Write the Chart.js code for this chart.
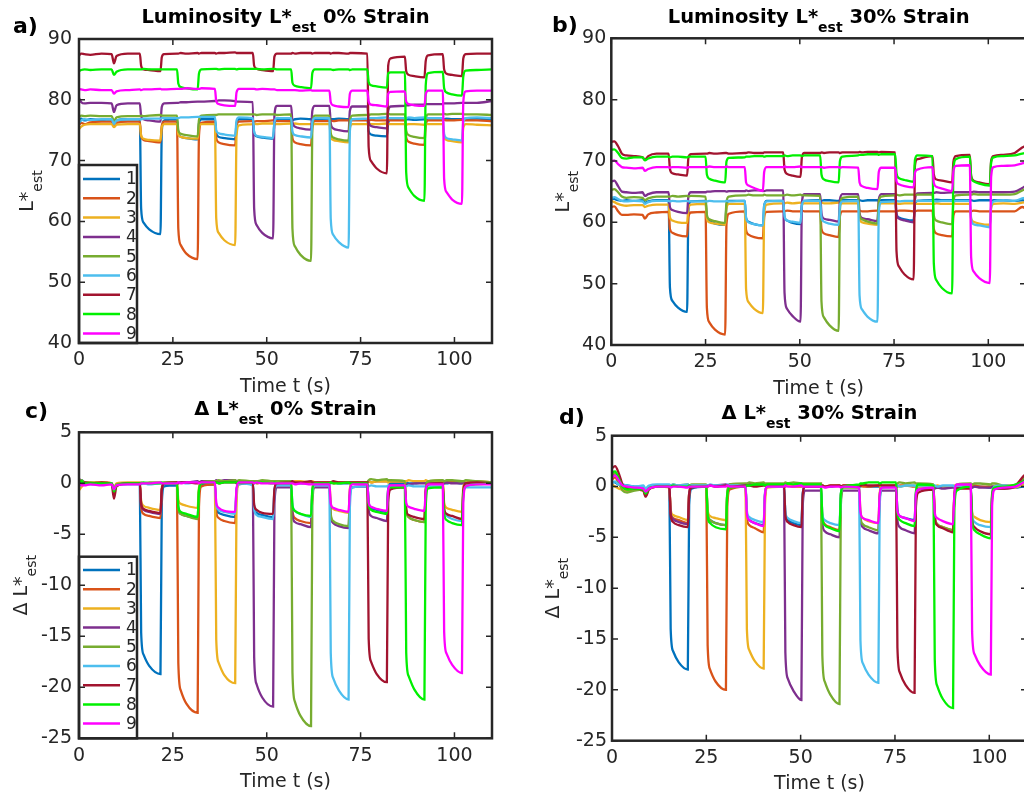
<!DOCTYPE html>
<html>
<head>
<meta charset="utf-8">
<script src="https://cdn.jsdelivr.net/npm/chart.js@4.4.1/dist/chart.umd.min.js"></script>
<style>
html,body{margin:0;padding:0;background:#fff;overflow:hidden;width:1024px;height:798px;position:relative}
canvas{position:absolute}
</style>
</head>
<body>
<canvas id="panelA" width="512" height="400" style="left:0;top:0"></canvas>
<canvas id="panelB" width="520" height="400" style="left:512px;top:0"></canvas>
<canvas id="panelC" width="512" height="398" style="left:0;top:400px"></canvas>
<canvas id="panelD" width="520" height="398" style="left:512px;top:400px"></canvas>
<script>
// ---- sensors, ticks ----
const SENSOR_LABELS = ['1','2','3','4','5','6','7','8','9'];
const SENSOR_COLORS = ['#0072BD','#D95319','#EDB120','#7E2F8E','#77AC30','#4DBEEE','#A2142F','#00F000','#FF00FF'];
const TIME_TICKS = [0, 25, 50, 75, 100];
const LUM_TICKS = [40, 50, 60, 70, 80, 90];
const DELTA_TICKS = [-25, -20, -15, -10, -5, 0, 5];

// ---- sample times (s), 0 % strain run ----
const TIME_0 = [0, 0.6, 1.5, 3, 6, 8.7, 9.3, 10.0, 13,
  16.2, 16.55, 17.2, 18.7, 21.7, 22.05, 22.7,
  26.1, 26.45, 27.1, 28.6, 31.6, 31.95, 32.6,
  36.2, 36.55, 37.2, 38.7, 41.6, 41.95, 42.6,
  46.3, 46.65, 47.3, 48.8, 51.7, 52.05, 52.7,
  56.5, 56.85, 57.5, 59.0, 61.8, 62.15, 62.8,
  66.7, 67.05, 67.7, 69.2, 71.8, 72.15, 72.8,
  76.8, 77.15, 77.8, 79.3, 82.0, 82.35, 83.0,
  86.8, 87.15, 87.8, 89.3, 92.0, 92.35, 93.0,
  96.9, 97.25, 97.9, 99.4, 102.0, 102.35, 103.0,
  106, 110];

// ---- sample times (s), 30 % strain run ----
const TIME_30 = [0, 0.8, 1.8, 2.8, 4, 6, 8.3, 8.9, 9.8, 12,
  15.2, 15.55, 16.2, 17.7, 20.1, 20.45, 21.1,
  25.0, 25.35, 26.0, 27.5, 30.2, 30.55, 31.2,
  35.4, 35.75, 36.4, 37.9, 40.2, 40.55, 41.2,
  45.6, 45.95, 46.6, 48.1, 50.2, 50.55, 51.2,
  55.4, 55.75, 56.4, 57.9, 60.3, 60.65, 61.3,
  65.5, 65.85, 66.5, 68.0, 70.6, 70.95, 71.6,
  75.3, 75.65, 76.3, 77.8, 80.2, 80.55, 81.2,
  85.2, 85.55, 86.2, 87.7, 90.4, 90.75, 91.4,
  95.1, 95.45, 96.1, 97.6, 100.4, 100.75, 101.4,
  104, 107, 109, 110];

// ---- luminosity L*est, 0 % strain ----
const LUM0_1 = [76.4, 76.9, 76.6, 76.8, 76.7, 76.8, 75.9, 76.6, 76.8,
  76.8, 62.1, 59.8, 58.7, 57.9, 74.9, 76.6,
  76.8, 74.5, 73.9, 73.7, 73.5, 76.1, 76.8,
  76.8, 74.5, 73.9, 73.7, 73.5, 76.1, 76.8,
  76.8, 74.6, 74.0, 73.8, 73.6, 76.2, 76.8,
  76.8, 76.7, 76.8, 76.9, 76.8, 76.8, 76.8,
  76.9, 76.8, 76.8, 76.9, 76.8, 76.8, 76.8,
  76.8, 74.8, 74.3, 74.1, 74.0, 76.2, 76.8,
  76.9, 76.8, 76.8, 76.7, 76.8, 76.8, 76.9,
  76.9, 76.8, 76.9, 76.8, 76.8, 76.9, 76.8,
  76.9, 76.8];
const LUM0_2 = [75.9, 76.2, 76.0, 76.3, 76.4, 76.4, 75.7, 76.2, 76.4,
  76.4, 74.0, 73.4, 73.2, 73.0, 75.7, 76.4,
  76.4, 58.8, 56.1, 54.7, 53.8, 74.1, 76.2,
  76.4, 73.7, 73.0, 72.7, 72.5, 75.6, 76.4,
  76.5, 76.4, 76.5, 76.5, 76.6, 76.5, 76.5,
  76.5, 73.7, 73.0, 72.7, 72.5, 75.7, 76.5,
  76.5, 76.6, 76.5, 76.6, 76.6, 76.5, 76.6,
  76.6, 76.6, 76.7, 76.6, 76.6, 76.7, 76.6,
  76.6, 73.8, 73.1, 72.8, 72.6, 75.8, 76.6,
  76.6, 76.7, 76.6, 76.6, 76.7, 76.6, 76.6,
  76.6, 76.5];
const LUM0_3 = [75.2, 75.6, 75.9, 76.0, 76.0, 76.0, 75.5, 75.9, 76.0,
  76.0, 74.1, 73.6, 73.4, 73.3, 75.5, 76.0,
  76.0, 74.3, 73.9, 73.7, 73.6, 75.5, 76.0,
  76.0, 60.5, 58.1, 56.9, 56.1, 74.0, 75.8,
  76.0, 76.1, 76.0, 76.1, 76.1, 76.0, 76.0,
  76.1, 76.0, 76.1, 76.0, 76.0, 76.1, 76.0,
  76.0, 73.9, 73.4, 73.2, 73.0, 75.4, 76.0,
  76.0, 76.1, 76.0, 76.0, 76.1, 76.0, 76.0,
  76.0, 75.9, 76.0, 76.0, 75.9, 76.0, 76.0,
  76.0, 73.9, 73.4, 73.2, 73.0, 75.4, 76.0,
  75.9, 75.8];
const LUM0_4 = [80.3, 79.6, 79.4, 79.5, 79.5, 79.4, 78.0, 79.1, 79.4,
  79.4, 77.3, 76.8, 76.6, 76.4, 78.8, 79.4,
  79.5, 79.5, 79.6, 79.6, 79.7, 79.7, 79.7,
  79.8, 79.8, 79.9, 79.9, 79.8, 79.7, 79.7,
  79.6, 62.1, 59.4, 58.1, 57.2, 77.4, 79.0,
  79.0, 76.3, 75.6, 75.3, 75.1, 78.2, 79.0,
  79.0, 76.1, 75.3, 75.0, 74.8, 78.2, 78.9,
  78.9, 76.4, 75.7, 75.5, 75.3, 78.2, 78.9,
  79.0, 79.1, 79.1, 79.2, 79.2, 79.3, 79.3,
  79.3, 79.4, 79.4, 79.4, 79.5, 79.5, 79.5,
  79.5, 79.8];
const LUM0_5 = [77.1, 77.4, 77.3, 77.4, 77.3, 77.3, 76.5, 77.1, 77.3,
  77.3, 77.4, 77.3, 77.4, 77.5, 77.4, 77.4,
  77.4, 75.0, 74.4, 74.2, 74.0, 76.7, 77.4,
  77.5, 77.5, 77.6, 77.6, 77.6, 77.6, 77.6,
  77.6, 77.6, 77.5, 77.6, 77.6, 77.6, 77.5,
  77.6, 58.8, 55.9, 54.5, 53.5, 75.2, 77.4,
  77.4, 74.5, 73.8, 73.5, 73.3, 76.6, 77.4,
  77.5, 77.5, 77.6, 77.6, 77.7, 77.7, 77.6,
  77.6, 74.9, 74.2, 73.9, 73.7, 76.8, 77.6,
  77.6, 77.7, 77.6, 77.7, 77.7, 77.6, 77.6,
  77.6, 77.5];
const LUM0_6 = [76.2, 76.6, 76.8, 76.7, 76.8, 76.8, 76.0, 76.6, 76.8,
  76.8, 76.8, 76.9, 76.9, 76.9, 77.0, 77.0,
  77.0, 77.0, 77.1, 77.1, 77.2, 77.2, 77.2,
  77.2, 75.0, 74.5, 74.3, 74.1, 76.6, 77.1,
  77.0, 74.7, 74.1, 73.9, 73.7, 76.3, 77.0,
  77.0, 74.8, 74.2, 74.0, 73.8, 76.4, 77.0,
  77.0, 60.4, 57.8, 56.6, 55.7, 74.9, 76.8,
  76.9, 77.0, 77.0, 77.0, 77.1, 77.0, 77.0,
  77.0, 77.0, 77.1, 77.0, 77.1, 77.1, 77.0,
  77.0, 74.4, 73.7, 73.5, 73.3, 76.3, 77.0,
  77.1, 77.0];
const LUM0_7 = [87.3, 87.6, 87.5, 87.4, 87.6, 87.5, 86.0, 87.2, 87.6,
  87.6, 85.6, 85.0, 84.9, 84.7, 87.0, 87.5,
  87.6, 87.6, 87.7, 87.6, 87.7, 87.6, 87.7,
  87.7, 87.6, 87.7, 87.7, 87.8, 87.7, 87.7,
  87.7, 85.6, 85.1, 84.9, 84.7, 87.1, 87.6,
  87.6, 87.7, 87.6, 87.7, 87.7, 87.6, 87.7,
  87.7, 87.6, 87.7, 87.7, 87.6, 87.7, 87.7,
  87.6, 72.2, 69.9, 68.7, 67.9, 85.6, 86.8,
  87.1, 84.7, 84.1, 83.9, 83.7, 86.4, 87.3,
  87.5, 85.0, 84.3, 84.1, 83.9, 86.8, 87.5,
  87.6, 87.6];
const LUM0_8 = [84.7, 84.9, 85.0, 84.9, 85.0, 85.0, 84.1, 84.6, 85.0,
  85.0, 85.0, 85.1, 85.0, 85.0, 85.0, 85.0,
  85.0, 82.7, 82.1, 81.9, 81.7, 84.3, 85.0,
  85.1, 85.1, 85.0, 85.1, 85.1, 85.0, 85.1,
  85.1, 85.1, 85.1, 85.0, 85.1, 85.1, 85.0,
  85.0, 82.8, 82.3, 82.1, 81.9, 84.4, 85.0,
  85.0, 85.0, 84.9, 85.0, 85.0, 84.9, 85.0,
  85.0, 82.9, 82.4, 82.2, 82.0, 84.4, 84.5,
  84.5, 68.0, 65.5, 64.2, 63.4, 82.4, 84.4,
  84.6, 81.9, 81.2, 80.9, 80.7, 83.8, 84.8,
  84.9, 85.0];
const LUM0_9 = [81.8, 81.7, 81.6, 81.7, 81.6, 81.6, 81.0, 81.4, 81.6,
  81.7, 81.6, 81.7, 81.7, 81.8, 81.7, 81.7,
  81.8, 81.8, 81.8, 81.9, 81.8, 81.8, 81.9,
  81.8, 79.8, 79.3, 79.1, 79.0, 81.2, 81.8,
  81.8, 81.8, 81.7, 81.8, 81.7, 81.7, 81.6,
  81.6, 81.6, 81.6, 81.5, 81.6, 81.5, 81.5,
  81.5, 79.6, 79.1, 78.9, 78.8, 81.0, 81.5,
  81.5, 79.7, 79.2, 79.1, 78.9, 81.0, 81.3,
  81.4, 79.7, 79.3, 79.1, 79.0, 80.9, 81.5,
  81.5, 67.0, 64.8, 63.6, 62.9, 79.6, 81.4,
  81.5, 81.5];

// ---- luminosity L*est, 30 % strain ----
const LUM30_1 = [63.9, 63.8, 63.6, 63.5, 63.6, 63.5, 63.6, 63.2, 63.4, 63.6,
  63.6, 49.4, 47.2, 46.1, 45.4, 61.8, 63.4,
  63.5, 60.8, 60.2, 59.8, 59.6, 62.7, 63.5,
  63.5, 60.7, 60.1, 59.7, 59.5, 62.7, 63.5,
  63.5, 60.8, 60.3, 59.9, 59.7, 62.7, 63.5,
  63.6, 63.5, 63.6, 63.6, 63.5, 63.6, 63.6,
  63.6, 63.6, 63.5, 63.6, 63.6, 63.5, 63.6,
  63.6, 61.3, 60.8, 60.5, 60.3, 62.9, 63.5,
  63.6, 63.6, 63.7, 63.6, 63.6, 63.7, 63.6,
  63.6, 63.6, 63.5, 63.6, 63.6, 63.5, 63.6,
  63.6, 63.5, 63.6, 63.5];
const LUM30_2 = [62.5, 62.6, 61.8, 61.2, 61.2, 61.3, 61.2, 60.6, 61.3, 61.6,
  61.7, 58.9, 58.3, 57.9, 57.7, 60.9, 61.6,
  61.7, 46.1, 43.7, 42.5, 41.7, 59.7, 61.4,
  61.8, 58.7, 58.0, 57.6, 57.4, 60.9, 61.7,
  61.8, 61.8, 61.9, 61.8, 61.8, 61.9, 61.8,
  61.8, 58.9, 58.2, 57.9, 57.6, 61.0, 61.8,
  61.8, 61.9, 61.8, 61.8, 61.9, 61.8, 61.8,
  61.8, 61.8, 61.9, 61.9, 61.8, 61.8, 61.9,
  61.9, 58.9, 58.2, 57.9, 57.7, 61.1, 61.8,
  61.8, 61.8, 61.9, 61.8, 61.8, 61.8, 61.8,
  61.8, 61.8, 62.5, 62.2];
const LUM30_3 = [63.5, 63.3, 63.0, 62.8, 62.7, 62.8, 62.8, 62.5, 62.7, 62.9,
  62.9, 60.8, 60.3, 60.0, 59.9, 62.3, 62.9,
  63.0, 60.6, 60.0, 59.8, 59.6, 62.3, 63.0,
  63.0, 49.1, 47.0, 45.9, 45.2, 61.2, 62.9,
  63.1, 63.1, 63.2, 63.1, 63.2, 63.1, 63.1,
  63.1, 63.2, 63.1, 63.1, 63.2, 63.1, 63.1,
  63.1, 60.7, 60.0, 59.8, 59.6, 62.4, 63.1,
  63.1, 63.1, 63.0, 63.1, 63.1, 63.0, 63.0,
  63.0, 63.0, 63.1, 63.0, 63.0, 63.1, 63.0,
  63.0, 60.6, 60.1, 59.8, 59.6, 62.3, 63.0,
  63.1, 63.0, 63.2, 63.3];
const LUM30_4 = [66.6, 66.8, 65.9, 65.0, 64.9, 64.8, 64.9, 64.3, 64.6, 64.9,
  64.9, 62.5, 62.0, 61.7, 61.5, 64.2, 64.9,
  64.9, 65.0, 65.0, 65.1, 65.1, 65.0, 65.1,
  65.1, 65.2, 65.1, 65.2, 65.2, 65.1, 65.2,
  65.2, 48.5, 45.9, 44.7, 43.8, 63.1, 64.6,
  64.6, 61.5, 60.6, 60.4, 60.1, 63.7, 64.6,
  64.6, 61.5, 60.7, 60.5, 60.2, 63.7, 64.6,
  64.6, 61.4, 60.6, 60.3, 60.0, 63.7, 64.7,
  64.8, 64.8, 64.9, 64.8, 64.9, 64.9, 64.9,
  64.9, 64.9, 65.0, 64.9, 64.9, 65.0, 64.9,
  64.9, 65.0, 65.6, 66.0];
const LUM30_5 = [65.3, 65.4, 64.9, 64.2, 64.0, 64.1, 64.0, 63.6, 63.9, 64.2,
  64.2, 64.2, 64.3, 64.2, 64.3, 64.2, 64.3,
  64.2, 61.2, 60.5, 60.2, 59.9, 63.3, 64.2,
  64.4, 64.4, 64.5, 64.4, 64.4, 64.5, 64.4,
  64.4, 64.4, 64.5, 64.4, 64.5, 64.4, 64.4,
  64.3, 47.1, 44.5, 43.2, 42.3, 62.1, 64.0,
  64.2, 61.1, 60.5, 60.1, 59.8, 63.3, 64.2,
  64.4, 64.5, 64.4, 64.5, 64.5, 64.4, 64.5,
  64.5, 61.1, 60.3, 60.0, 59.7, 63.5, 64.4,
  64.5, 64.5, 64.6, 64.5, 64.5, 64.6, 64.5,
  64.5, 64.6, 65.2, 65.5];
const LUM30_6 = [64.0, 64.1, 63.8, 63.5, 63.4, 63.5, 63.4, 63.0, 63.3, 63.5,
  63.5, 63.4, 63.5, 63.4, 63.5, 63.4, 63.4,
  63.4, 63.4, 63.5, 63.4, 63.4, 63.5, 63.4,
  63.5, 60.7, 60.0, 59.7, 59.5, 62.7, 63.4,
  63.5, 61.0, 60.3, 60.1, 59.9, 62.8, 63.5,
  63.5, 60.8, 60.1, 59.8, 59.6, 62.7, 63.4,
  63.5, 48.1, 45.8, 44.6, 43.8, 61.5, 63.3,
  63.4, 63.5, 63.4, 63.5, 63.5, 63.4, 63.5,
  63.5, 63.5, 63.4, 63.5, 63.5, 63.4, 63.5,
  63.5, 60.5, 59.7, 59.5, 59.2, 62.6, 63.4,
  63.6, 63.5, 63.9, 64.0];
const LUM30_7 = [73.1, 73.2, 72.4, 71.2, 70.9, 70.8, 70.6, 70.2, 70.8, 71.2,
  71.2, 68.7, 68.0, 67.8, 67.6, 70.5, 71.1,
  71.2, 71.2, 71.3, 71.2, 71.3, 71.3, 71.2,
  71.3, 71.3, 71.4, 71.3, 71.3, 71.4, 71.4,
  71.4, 68.6, 67.9, 67.6, 67.4, 70.6, 71.3,
  71.3, 71.4, 71.3, 71.4, 71.4, 71.3, 71.4,
  71.4, 71.5, 71.4, 71.5, 71.5, 71.4, 71.5,
  71.4, 55.3, 52.8, 51.5, 50.7, 69.3, 70.3,
  70.8, 67.8, 67.0, 66.8, 66.5, 69.9, 70.8,
  71.0, 67.6, 66.8, 66.5, 66.2, 70.0, 70.8,
  71.0, 71.3, 72.2, 72.5];
const LUM30_8 = [71.8, 71.9, 71.3, 70.5, 70.4, 70.6, 70.6, 70.1, 70.4, 70.7,
  70.7, 70.6, 70.7, 70.7, 70.6, 70.7, 70.7,
  70.7, 67.8, 67.1, 66.8, 66.5, 69.9, 70.5,
  70.6, 70.7, 70.7, 70.8, 70.8, 70.7, 70.8,
  70.8, 70.9, 70.8, 70.9, 70.9, 70.8, 70.9,
  70.9, 67.8, 67.0, 66.7, 66.5, 70.0, 70.7,
  70.9, 71.0, 71.0, 71.1, 71.1, 71.0, 71.1,
  71.1, 68.0, 67.2, 66.9, 66.6, 70.2, 70.9,
  70.8, 53.3, 50.6, 49.3, 48.4, 68.6, 70.3,
  70.7, 67.4, 66.7, 66.3, 66.0, 69.8, 70.6,
  70.8, 70.9, 71.2, 71.3];
const LUM30_9 = [69.9, 70.1, 69.5, 69.0, 68.9, 68.8, 68.9, 68.4, 68.7, 69.0,
  69.0, 68.9, 69.0, 69.0, 68.9, 69.0, 69.0,
  69.0, 69.0, 69.1, 69.0, 69.0, 69.1, 69.0,
  69.0, 66.5, 66.0, 65.6, 65.1, 68.2, 69.0,
  69.0, 69.1, 69.0, 69.0, 69.1, 69.0, 69.0,
  69.0, 69.0, 68.9, 69.0, 69.0, 68.9, 69.0,
  68.9, 66.5, 65.9, 65.6, 65.4, 68.2, 68.9,
  68.9, 66.7, 66.2, 65.9, 65.7, 68.1, 68.6,
  69.0, 66.4, 65.8, 65.5, 65.1, 68.3, 69.2,
  69.3, 54.3, 52.0, 50.9, 50.1, 67.4, 69.0,
  69.2, 69.3, 69.6, 69.8];

// ---- change of luminosity, 0 % strain ----
const DELTA0_1 = [-0.3, 0.3, 0.1, 0.0, 0.0, 0.0, -0.6, -0.1, 0.0,
  0.0, -14.6, -16.8, -17.9, -18.7, -1.9, -0.3,
  -0.2, -2.5, -3.0, -3.2, -3.4, -0.8, -0.2,
  -0.1, -2.4, -2.9, -3.1, -3.3, -0.7, -0.1,
  0.0, -2.3, -2.9, -3.1, -3.3, -0.7, 0.0,
  0.0, 0.1, 0.0, 0.0, 0.1, 0.0, 0.0,
  0.0, 0.0, 0.1, 0.0, 0.0, 0.1, 0.0,
  0.0, -1.9, -2.4, -2.6, -2.8, -0.6, 0.0,
  0.0, 0.1, 0.0, 0.0, 0.1, 0.0, 0.0,
  0.1, 0.0, 0.0, 0.1, 0.0, 0.0, 0.1,
  0.1, 0.0];
const DELTA0_2 = [0.2, -0.2, 0.1, 0.0, 0.1, 0.0, -0.7, -0.1, 0.0,
  0.0, -2.4, -3.0, -3.2, -3.4, -0.7, 0.0,
  0.0, -17.6, -20.3, -21.6, -22.5, -2.3, -0.3,
  -0.1, -2.8, -3.4, -3.7, -3.9, -0.8, 0.0,
  0.0, 0.1, 0.0, 0.1, 0.1, 0.0, 0.1,
  0.1, -2.7, -3.4, -3.7, -3.9, -0.7, 0.1,
  0.1, 0.1, 0.0, 0.1, 0.1, 0.0, 0.1,
  0.1, 0.2, 0.1, 0.2, 0.2, 0.1, 0.2,
  0.2, -2.6, -3.3, -3.6, -3.8, -0.6, 0.1,
  0.2, 0.2, 0.1, 0.2, 0.2, 0.1, 0.2,
  0.1, 0.1];
const DELTA0_3 = [-0.7, -0.4, 0.0, 0.1, 0.1, 0.0, -0.4, 0.0, 0.1,
  0.1, -1.7, -2.2, -2.4, -2.6, -0.4, 0.1,
  0.1, -1.6, -2.0, -2.2, -2.4, -0.4, 0.1,
  0.1, -15.3, -17.6, -18.8, -19.6, -1.9, 0.0,
  0.1, 0.1, 0.2, 0.1, 0.2, 0.1, 0.2,
  0.2, 0.1, 0.2, 0.2, 0.1, 0.2, 0.1,
  0.1, -2.0, -2.5, -2.7, -2.9, -0.5, 0.1,
  0.1, 0.2, 0.1, 0.2, 0.2, 0.1, 0.2,
  0.2, 0.2, 0.3, 0.2, 0.2, 0.3, 0.2,
  0.3, -1.9, -2.4, -2.6, -2.8, -0.4, 0.2,
  0.2, 0.1];
const DELTA0_4 = [0.5, 0.0, -0.1, 0.0, 0.0, 0.0, -0.8, -0.2, 0.0,
  0.0, -2.1, -2.6, -2.8, -3.0, -0.6, 0.0,
  0.0, 0.1, 0.1, 0.1, 0.2, 0.1, 0.2,
  0.2, 0.3, 0.2, 0.3, 0.3, 0.2, 0.2,
  0.2, -17.0, -19.7, -21.0, -21.9, -2.0, -0.4,
  -0.4, -3.1, -3.8, -4.0, -4.3, -1.1, -0.4,
  -0.4, -3.2, -3.9, -4.2, -4.4, -1.2, -0.4,
  -0.3, -2.6, -3.2, -3.4, -3.7, -0.9, -0.2,
  -0.2, -0.1, -0.1, 0.0, 0.0, 0.0, 0.0,
  0.0, 0.0, 0.1, 0.0, 0.0, 0.1, 0.0,
  0.0, 0.1];
const DELTA0_5 = [0.0, 0.3, 0.1, 0.1, 0.0, 0.0, -0.6, -0.1, 0.0,
  0.0, 0.1, 0.0, 0.1, 0.1, 0.0, 0.1,
  0.1, -2.4, -3.0, -3.2, -3.5, -0.7, 0.1,
  0.2, 0.2, 0.3, 0.2, 0.3, 0.2, 0.3,
  0.2, 0.2, 0.2, 0.3, 0.2, 0.2, 0.2,
  0.2, -18.5, -21.4, -22.8, -23.8, -2.2, -0.2,
  -0.1, -3.0, -3.7, -4.0, -4.2, -0.9, 0.0,
  0.1, 0.3, 0.4, 0.3, 0.4, 0.3, 0.3,
  0.2, -2.6, -3.3, -3.6, -3.8, -0.6, 0.2,
  0.3, 0.2, 0.3, 0.3, 0.2, 0.2, 0.3,
  0.2, 0.1];
const DELTA0_6 = [-0.4, 0.1, 0.0, -0.1, 0.0, 0.0, -0.6, -0.2, -0.1,
  -0.1, -0.1, 0.0, -0.1, 0.0, 0.0, 0.0,
  0.0, 0.0, 0.1, 0.0, 0.1, 0.1, 0.1,
  0.1, -2.1, -2.6, -2.8, -3.0, -0.6, 0.0,
  -0.2, -2.5, -3.1, -3.3, -3.5, -0.9, -0.2,
  -0.2, -2.1, -2.7, -3.0, -3.3, -0.8, -0.2,
  -0.2, -16.6, -19.1, -20.3, -21.2, -2.3, -0.4,
  -0.3, -0.3, -0.2, -0.3, -0.3, -0.2, -0.3,
  -0.3, -0.3, -0.2, -0.3, -0.3, -0.3, -0.3,
  -0.3, -2.7, -3.2, -3.5, -3.7, -1.0, -0.4,
  -0.4, -0.4];
const DELTA0_7 = [0.2, -0.1, 0.1, 0.0, 0.1, -0.1, -1.5, -0.3, 0.0,
  0.0, -2.0, -2.5, -2.7, -2.9, -0.6, 0.0,
  0.1, 0.0, 0.1, 0.1, 0.0, 0.1, 0.1,
  0.1, 0.1, 0.0, 0.1, 0.1, 0.0, 0.1,
  0.1, -2.1, -2.6, -2.9, -3.0, -0.6, 0.0,
  0.1, 0.2, 0.1, 0.1, 0.2, 0.1, 0.1,
  0.1, 0.1, 0.2, 0.1, 0.1, 0.1, 0.1,
  0.1, -15.2, -17.5, -18.7, -19.5, -1.9, -0.6,
  -0.4, -2.6, -3.1, -3.3, -3.5, -0.9, -0.1,
  0.0, -2.4, -3.0, -3.2, -3.5, -0.7, 0.0,
  0.1, 0.0];
const DELTA0_8 = [0.1, 0.2, 0.0, 0.0, 0.0, 0.0, -0.8, -0.2, 0.0,
  0.0, 0.0, 0.1, 0.0, 0.0, 0.1, 0.0,
  0.0, -2.3, -2.8, -3.0, -3.3, -0.7, 0.0,
  0.1, 0.1, 0.0, 0.1, 0.1, 0.1, 0.1,
  0.1, 0.0, 0.1, 0.1, 0.0, 0.1, 0.0,
  0.0, -2.2, -2.7, -3.0, -3.2, -0.6, 0.0,
  0.0, 0.1, 0.0, 0.0, 0.1, 0.0, 0.0,
  0.0, -2.1, -2.6, -2.8, -3.0, -0.6, -0.4,
  -0.4, -16.6, -18.9, -20.2, -21.2, -2.3, -0.5,
  -0.4, -3.0, -3.6, -3.9, -4.1, -1.1, -0.3,
  -0.1, 0.0];
const DELTA0_9 = [0.0, -0.2, -0.2, -0.1, -0.2, -0.1, -0.6, -0.2, -0.1,
  -0.1, 0.0, 0.0, 0.0, 0.1, 0.0, 0.0,
  0.0, 0.1, 0.0, 0.1, 0.1, 0.0, 0.1,
  0.1, -1.9, -2.4, -2.7, -2.8, -0.5, 0.1,
  0.1, 0.0, 0.1, 0.0, 0.0, 0.0, 0.0,
  0.0, 0.0, -0.1, 0.0, -0.1, -0.1, -0.1,
  -0.1, -2.0, -2.4, -2.6, -2.8, -0.6, -0.1,
  -0.1, -1.9, -2.3, -2.5, -2.7, -0.6, -0.2,
  -0.2, -1.9, -2.3, -2.5, -2.7, -0.7, -0.1,
  -0.1, -14.5, -16.7, -17.8, -18.6, -1.9, -0.3,
  -0.1, -0.1];

// ---- change of luminosity, 30 % strain ----
const DELTA30_1 = [0.5, 0.4, 0.2, 0.1, 0.1, 0.0, 0.0, -0.3, 0.0, 0.1,
  0.0, -14.0, -16.2, -17.3, -18.0, -1.8, -0.2,
  0.0, -2.7, -3.3, -3.6, -3.8, -0.8, 0.0,
  0.0, -2.7, -3.3, -3.6, -3.8, -0.8, 0.0,
  0.0, -2.7, -3.3, -3.6, -3.8, -0.8, 0.0,
  0.0, 0.1, 0.0, 0.0, 0.1, 0.0, 0.0,
  0.0, 0.0, 0.1, 0.0, 0.0, 0.0, 0.0,
  0.0, -2.3, -2.9, -3.1, -3.3, -0.7, 0.0,
  0.0, 0.0, -0.1, 0.0, 0.0, -0.1, 0.0,
  0.0, -0.1, 0.0, 0.0, -0.1, 0.0, 0.0,
  0.0, -0.1, 0.0, -0.1];
const DELTA30_2 = [0.7, 0.9, 0.3, -0.3, -0.4, -0.3, -0.4, -0.9, -0.2, 0.0,
  0.0, -2.5, -3.1, -3.3, -3.6, -0.7, 0.0,
  0.0, -15.6, -18.0, -19.2, -20.0, -2.0, -0.3,
  0.0, -3.1, -3.8, -4.1, -4.5, -0.9, 0.0,
  0.0, 0.0, 0.1, 0.0, 0.0, 0.1, 0.0,
  0.0, -2.9, -3.7, -4.0, -4.3, -0.9, 0.0,
  0.0, 0.1, 0.0, 0.0, 0.1, 0.0, 0.0,
  0.0, 0.0, 0.1, 0.1, 0.0, 0.0, 0.1,
  0.1, -2.9, -3.7, -4.0, -4.3, -0.8, 0.0,
  0.0, 0.0, 0.1, 0.0, 0.0, 0.0, 0.0,
  0.0, 0.0, 0.7, 0.4];
const DELTA30_3 = [0.2, 0.0, -0.2, -0.3, -0.3, -0.2, -0.2, -0.4, -0.2, 0.0,
  -0.1, -2.3, -2.8, -3.0, -3.3, -0.7, 0.0,
  0.0, -2.3, -2.9, -3.1, -3.3, -0.7, 0.0,
  0.0, -14.0, -16.1, -17.2, -17.9, -1.8, -0.1,
  0.0, 0.1, 0.1, 0.0, 0.1, 0.1, 0.1,
  0.1, 0.1, 0.0, 0.1, 0.1, 0.0, 0.1,
  0.1, -2.5, -3.1, -3.4, -3.6, -0.7, 0.1,
  0.1, 0.1, 0.0, 0.1, 0.1, 0.0, 0.0,
  0.0, 0.0, 0.1, 0.0, 0.0, 0.1, 0.0,
  0.0, -2.5, -3.0, -3.3, -3.5, -0.7, 0.0,
  0.0, -0.1, 0.2, 0.3];
const DELTA30_4 = [1.1, 1.3, 0.6, 0.0, -0.2, -0.2, -0.3, -0.6, -0.2, 0.0,
  0.0, -2.6, -3.2, -3.5, -3.7, -0.7, 0.0,
  0.0, 0.1, 0.1, 0.1, 0.2, 0.1, 0.2,
  0.2, 0.2, 0.3, 0.2, 0.3, 0.2, 0.2,
  0.2, -16.3, -18.9, -20.1, -21.0, -1.9, -0.4,
  -0.4, -3.6, -4.4, -4.7, -5.0, -1.3, -0.4,
  -0.4, -3.3, -4.0, -4.3, -4.6, -1.2, -0.4,
  -0.4, -3.3, -4.0, -4.3, -4.6, -1.2, -0.3,
  -0.2, -0.2, -0.1, -0.2, -0.1, -0.1, -0.1,
  -0.1, -0.1, 0.0, -0.1, -0.1, 0.0, -0.1,
  -0.2, 0.0, 0.7, 1.0];
const DELTA30_5 = [1.2, 1.3, 0.5, -0.4, -0.6, -0.4, -0.3, -0.6, -0.1, 0.1,
  0.1, 0.1, 0.2, 0.1, 0.2, 0.1, 0.2,
  0.2, -2.6, -3.3, -3.6, -3.8, -0.6, 0.2,
  0.3, 0.3, 0.4, 0.3, 0.4, 0.3, 0.3,
  0.3, 0.4, 0.3, 0.4, 0.3, 0.3, 0.3,
  0.3, -16.6, -19.2, -20.5, -21.4, -1.9, -0.1,
  -0.1, -3.0, -3.7, -4.0, -4.3, -0.9, 0.0,
  0.1, 0.3, 0.4, 0.3, 0.4, 0.3, 0.3,
  0.2, -2.9, -3.7, -4.0, -4.3, -0.7, 0.2,
  0.3, 0.2, 0.3, 0.3, 0.2, 0.3, 0.3,
  0.1, 0.2, 0.8, 1.1];
const DELTA30_6 = [0.3, 0.5, 0.2, 0.2, 0.1, 0.0, 0.1, -0.2, 0.1, 0.2,
  0.2, 0.1, 0.2, 0.1, 0.2, 0.1, 0.1,
  0.1, 0.1, 0.2, 0.1, 0.1, 0.2, 0.1,
  0.1, -2.4, -3.0, -3.3, -3.5, -0.6, 0.0,
  0.0, -2.5, -3.1, -3.4, -3.6, -0.7, 0.0,
  0.0, -2.7, -3.3, -3.6, -3.8, -0.8, 0.0,
  0.0, -15.1, -17.4, -18.5, -19.3, -1.9, -0.1,
  0.0, 0.1, 0.0, 0.1, 0.1, 0.0, 0.1,
  0.1, 0.1, 0.0, 0.1, 0.1, 0.0, 0.1,
  0.1, -2.8, -3.5, -3.8, -4.0, -0.8, 0.0,
  0.1, 0.0, 0.4, 0.5];
const DELTA30_7 = [1.8, 2.0, 1.3, 0.2, -0.1, -0.2, -0.4, -1.0, -0.3, 0.0,
  0.0, -2.8, -3.5, -3.8, -4.0, -0.8, -0.1,
  0.0, 0.0, 0.1, 0.0, 0.1, 0.1, 0.0,
  0.1, 0.1, 0.1, 0.0, 0.1, 0.1, 0.1,
  0.1, -2.8, -3.5, -3.8, -4.0, -0.8, 0.0,
  0.0, 0.1, 0.0, 0.1, 0.1, 0.0, 0.1,
  0.1, 0.1, 0.2, 0.1, 0.1, 0.2, 0.1,
  0.1, -15.8, -18.3, -19.5, -20.3, -2.0, -0.6,
  -0.3, -3.1, -3.8, -4.1, -4.5, -1.0, -0.2,
  -0.2, -3.3, -4.0, -4.4, -4.7, -1.1, -0.2,
  -0.2, 0.1, 1.0, 1.3];
const DELTA30_8 = [1.4, 1.5, 0.8, 0.0, -0.3, -0.2, -0.3, -0.7, -0.2, 0.0,
  0.0, 0.0, 0.1, 0.0, 0.0, 0.1, 0.0,
  0.0, -2.9, -3.6, -4.0, -4.2, -0.8, -0.1,
  0.0, 0.1, 0.1, 0.2, 0.2, 0.1, 0.2,
  0.2, 0.2, 0.3, 0.2, 0.3, 0.2, 0.2,
  0.2, -3.0, -3.8, -4.1, -4.4, -0.7, 0.0,
  0.2, 0.3, 0.3, 0.4, 0.4, 0.3, 0.4,
  0.4, -2.6, -3.3, -3.6, -3.9, -0.5, 0.2,
  0.1, -17.0, -19.6, -20.9, -21.8, -2.1, -0.4,
  0.0, -3.5, -4.3, -4.7, -5.1, -1.0, -0.1,
  0.0, 0.2, 0.5, 0.7];
const DELTA30_9 = [0.9, 1.1, 0.6, 0.1, 0.0, -0.1, -0.2, -0.5, -0.2, 0.0,
  0.0, -0.1, 0.0, 0.0, -0.1, 0.0, 0.0,
  0.0, 0.0, 0.1, 0.0, 0.0, 0.1, 0.0,
  0.0, -2.7, -3.3, -3.6, -3.9, -0.8, 0.0,
  0.0, 0.1, 0.0, 0.0, 0.1, 0.0, 0.0,
  0.0, 0.0, -0.1, 0.0, 0.0, -0.1, 0.0,
  -0.1, -2.5, -3.1, -3.3, -3.6, -0.8, -0.1,
  -0.1, -2.4, -2.9, -3.1, -3.4, -0.8, -0.3,
  -0.1, -2.6, -3.1, -3.4, -3.7, -0.8, 0.2,
  0.2, -14.3, -16.5, -17.6, -18.5, -1.9, -0.3,
  -0.1, 0.0, 0.4, 0.6];

// ---- drawing ----
const FONT = '"DejaVu Sans", sans-serif';
const INK = '#262626';

function drawRich(ctx, parts, x, y) {
  let total = 0;
  parts.forEach(p => { ctx.font = p.font; p.w = ctx.measureText(p.text).width; total += p.w; });
  let cx = x - total / 2;
  parts.forEach(p => { ctx.font = p.font; ctx.fillText(p.text, cx, y + (p.dy || 0)); cx += p.w; });
}

function makeDecor(cfg, yTicks) {
  return {
    id: 'decor_' + cfg.key,
    afterDatasetsDraw(chart) {
      const ctx = chart.ctx, a = chart.chartArea;
      const xs = chart.scales.x, ys = chart.scales.y;
      ctx.save();

      // legend box
      if (cfg.legend) {
        const L = cfg.legend;
        ctx.fillStyle = '#fff';
        ctx.fillRect(a.left, L.top, L.right - a.left, a.bottom - L.top);
        ctx.strokeStyle = INK; ctx.lineWidth = 2.5;
        ctx.strokeRect(a.left, L.top, L.right - a.left, a.bottom - L.top);
        ctx.font = '17px ' + FONT; ctx.textBaseline = 'middle'; ctx.textAlign = 'left';
        chart.data.datasets.forEach((ds, i) => {
          const yy = L.first + i * L.step;
          ctx.strokeStyle = ds.borderColor; ctx.lineWidth = 2.5;
          ctx.beginPath(); ctx.moveTo(a.left + 4, yy); ctx.lineTo(a.left + 41, yy); ctx.stroke();
          ctx.fillStyle = INK; ctx.fillText(ds.label, a.left + 47, yy + 1);
        });
      }

      // inward ticks on all four sides
      ctx.strokeStyle = INK; ctx.lineWidth = 1.5;
      ctx.beginPath();
      TIME_TICKS.forEach(v => {
        const px = xs.getPixelForValue(v);
        ctx.moveTo(px, a.bottom); ctx.lineTo(px, a.bottom - 6);
        ctx.moveTo(px, a.top); ctx.lineTo(px, a.top + 6);
      });
      yTicks.forEach(v => {
        const py = ys.getPixelForValue(v);
        ctx.moveTo(a.left, py); ctx.lineTo(a.left + 6, py);
        ctx.moveTo(a.right, py); ctx.lineTo(a.right - 6, py);
      });
      ctx.stroke();

      // axes box
      ctx.lineWidth = 2.5;
      ctx.strokeRect(a.left, a.top, a.right - a.left, a.bottom - a.top);

      // panel letter
      ctx.textAlign = 'left'; ctx.textBaseline = 'alphabetic';
      ctx.fillStyle = '#000';
      ctx.font = 'bold 22px ' + FONT;
      ctx.fillText(cfg.letter, cfg.letterX, cfg.letterY);

      // title with subscript
      const cxm = (a.left + a.right) / 2;
      drawRich(ctx, [
        {text: cfg.titlePre, font: 'bold 19.5px ' + FONT},
        {text: 'est', font: 'bold 14px ' + FONT, dy: 8.5},
        {text: cfg.titlePost, font: 'bold 19.5px ' + FONT}
      ], cxm, cfg.titleY);

      // x axis title
      ctx.fillStyle = INK;
      ctx.font = '19px ' + FONT;
      ctx.textAlign = 'center';
      ctx.fillText('Time t (s)', cxm, a.bottom + 48.5);
      ctx.textAlign = 'left';

      // y axis title, rotated
      ctx.save();
      ctx.translate(cfg.yTitleX, (a.top + a.bottom) / 2);
      ctx.rotate(-Math.PI / 2);
      drawRich(ctx, [
        {text: cfg.yTitlePre, font: '19px ' + FONT},
        {text: 'est', font: '14px ' + FONT, dy: 9}
      ], 0, 0);
      ctx.restore();

      ctx.restore();
    }
  };
}

function buildPanel(canvasId, times, series, yTicks, cfg) {
  const datasets = series.map((vals, i) => ({
    label: SENSOR_LABELS[i],
    data: times.map((t, k) => ({x: t, y: vals[k]})),
    borderColor: SENSOR_COLORS[i],
    borderWidth: 2.3,
    pointRadius: 0,
    cubicInterpolationMode: 'monotone',
    fill: false,
    order: series.length - 1 - i
  }));
  const tickFont = {family: FONT, size: 19, lineHeight: 1.2};
  new Chart(document.getElementById(canvasId), {
    type: 'line',
    data: {datasets},
    options: {
      responsive: false,
      animation: false,
      events: [],
      layout: {padding: {top: cfg.padTop, right: cfg.padRight, bottom: 0, left: 0}},
      plugins: {legend: {display: false}, tooltip: {enabled: false}},
      scales: {
        x: {
          type: 'linear', min: 0, max: 110,
          grid: {display: false, drawTicks: false},
          border: {display: false},
          ticks: {color: INK, font: tickFont, padding: 6, maxRotation: 0, callback: v => String(v)},
          afterBuildTicks: s => { s.ticks = TIME_TICKS.map(v => ({value: v})); },
          afterFit: s => { s.height = cfg.xHeight; }
        },
        y: {
          type: 'linear', min: yTicks[0], max: yTicks[yTicks.length - 1],
          grid: {display: false, drawTicks: false},
          border: {display: false},
          ticks: {color: INK, font: tickFont, padding: cfg.tickPad, callback: v => String(v)},
          afterBuildTicks: s => { s.ticks = yTicks.map(v => ({value: v})); },
          afterFit: s => { s.width = cfg.yWidth; }
        }
      }
    },
    plugins: [makeDecor(cfg, yTicks)]
  });
}

buildPanel('panelA', TIME_0,
  [LUM0_1, LUM0_2, LUM0_3, LUM0_4, LUM0_5, LUM0_6, LUM0_7, LUM0_8, LUM0_9], LUM_TICKS,
  {key: 'a', yWidth: 79, xHeight: 57, padTop: 39, padRight: 20, tickPad: 7,
   letter: 'a)', letterX: 13, letterY: 33,
   titlePre: 'Luminosity L*', titlePost: ' 0% Strain', titleY: 23,
   yTitlePre: 'L*', yTitleX: 33,
   legend: {top: 165, first: 179, step: 19.3, right: 137}});

buildPanel('panelB', TIME_30,
  [LUM30_1, LUM30_2, LUM30_3, LUM30_4, LUM30_5, LUM30_6, LUM30_7, LUM30_8, LUM30_9], LUM_TICKS,
  {key: 'b', yWidth: 99.3, xHeight: 55, padTop: 38.3, padRight: 6, tickPad: 5,
   letter: 'b)', letterX: 40, letterY: 32,
   titlePre: 'Luminosity L*', titlePost: ' 30% Strain', titleY: 23,
   yTitlePre: 'L*', yTitleX: 57});

buildPanel('panelC', TIME_0,
  [DELTA0_1, DELTA0_2, DELTA0_3, DELTA0_4, DELTA0_5, DELTA0_6, DELTA0_7, DELTA0_8, DELTA0_9], DELTA_TICKS,
  {key: 'c', yWidth: 79, xHeight: 59.7, padTop: 32.3, padRight: 20, tickPad: 7,
   letter: 'c)', letterX: 25, letterY: 18,
   titlePre: '\u0394 L*', titlePost: ' 0% Strain', titleY: 15,
   yTitlePre: '\u0394 L*', yTitleX: 27,
   legend: {top: 156.7, first: 170, step: 19.2, right: 137}});

buildPanel('panelD', TIME_30,
  [DELTA30_1, DELTA30_2, DELTA30_3, DELTA30_4, DELTA30_5, DELTA30_6, DELTA30_7, DELTA30_8, DELTA30_9], DELTA_TICKS,
  {key: 'd', yWidth: 100, xHeight: 57.3, padTop: 35.7, padRight: 5, tickPad: 5,
   letter: 'd)', letterX: 47, letterY: 24,
   titlePre: '\u0394 L*', titlePost: ' 30% Strain', titleY: 19,
   yTitlePre: '\u0394 L*', yTitleX: 47});
</script>
</body>
</html>
